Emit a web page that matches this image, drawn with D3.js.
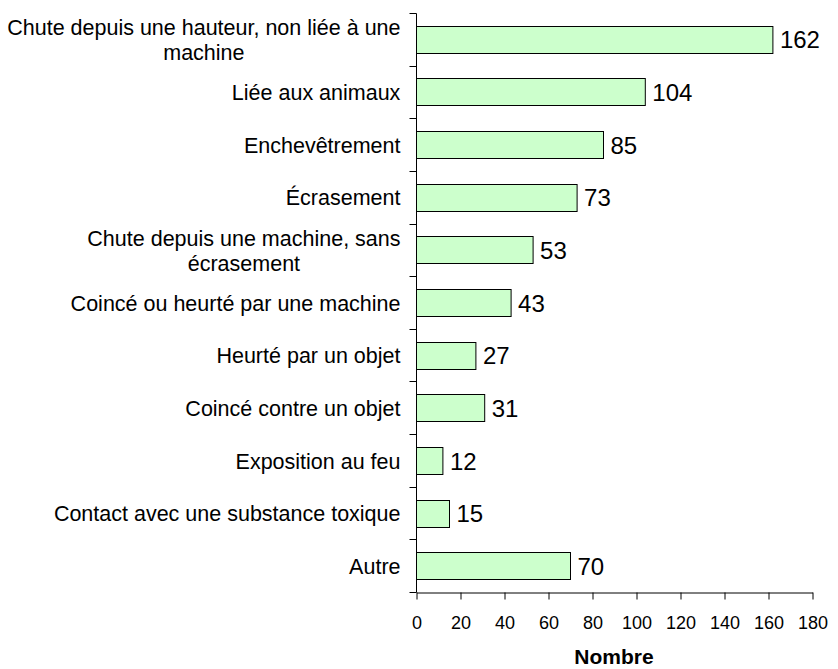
<!DOCTYPE html>
<html>
<head>
<meta charset="utf-8">
<script src="https://cdn.jsdelivr.net/npm/d3@7"></script>
<style>
  html, body { margin: 0; padding: 0; background: #fff; }
  svg { display: block; font-family: Arial, "Liberation Sans", sans-serif; }
</style>
</head>
<body>
<svg id="chart" width="838" height="669"></svg>
<script>
// Causes of injury, count per category (top to bottom)
const categories = [
  ["Chute depuis une hauteur, non liée à une", "machine"],
  ["Liée aux animaux"],
  ["Enchevêtrement"],
  ["Écrasement"],
  ["Chute depuis une machine, sans", "écrasement"],
  ["Coincé ou heurté par une machine"],
  ["Heurté par un objet"],
  ["Coincé contre un objet"],
  ["Exposition au feu"],
  ["Contact avec une substance toxique"],
  ["Autre"]
];
const values = [162, 104, 85, 73, 53, 43, 27, 31, 12, 15, 70];
const xTicks = [0, 20, 40, 60, 80, 100, 120, 140, 160, 180];
const xTitle = "Nombre";

const svg = d3.select("#chart");
const plot = { left: 416, right: 812, top: 13, bottom: 592 };

const keys = categories.map(c => c.join(" "));
const x = d3.scaleLinear().domain([0, 180]).range([plot.left, plot.right]);
const y = d3.scaleBand().domain(keys)
  .range([plot.top, plot.bottom])
  .paddingInner(0.487).paddingOuter(0.2435);

const g = svg.append("g").attr("transform", "translate(0.5,0.5)");

// bars
g.selectAll("rect.bar").data(values).join("rect")
  .attr("class", "bar")
  .attr("x", x(0))
  .attr("y", (d, i) => Math.round(y(keys[i])))
  .attr("width", d => x(d) - x(0))
  .attr("height", Math.round(y.bandwidth()))
  .attr("fill", "#CCFFCC")
  .attr("stroke", "#000")
  .attr("stroke-width", 1);

// value labels
g.selectAll("text.val").data(values).join("text")
  .attr("class", "val")
  .attr("x", d => x(d) + 7)
  .attr("y", (d, i) => y(keys[i]) + y.bandwidth() / 2)
  .attr("dy", "0.36em")
  .attr("font-size", 24)
  .attr("fill", "#000")
  .text(d => d);

// category axis: line plus ticks at band boundaries
const gap = (y.step() - y.bandwidth()) / 2;
const bounds = keys.map(k => y(k) - gap).concat([y(keys[keys.length - 1]) + y.bandwidth() + gap]);
g.append("line")
  .attr("x1", x(0)).attr("x2", x(0))
  .attr("y1", Math.round(bounds[0])).attr("y2", Math.round(bounds[bounds.length - 1]))
  .attr("stroke", "#000");
g.selectAll("line.ytick").data(bounds).join("line")
  .attr("class", "ytick")
  .attr("x1", x(0) - 7).attr("x2", x(0))
  .attr("y1", d => Math.round(d)).attr("y2", d => Math.round(d))
  .attr("stroke", "#000");

// category labels, right-aligned block with centred wrapped lines
const lineH = 25;
categories.forEach((lines, i) => {
  const cy = y(keys[i]) + y.bandwidth() / 2;
  const t = g.append("text")
    .attr("font-size", 21.5)
    .attr("fill", "#000")
    .attr("text-anchor", "middle");
  lines.forEach((ln, j) => {
    t.append("tspan")
      .attr("x", 0)
      .attr("y", cy + (j - (lines.length - 1) / 2) * lineH)
      .attr("dy", "0.36em")
      .text(ln);
  });
  const w = t.node().getBBox().width;
  t.attr("transform", `translate(${x(0) - 16 - w / 2},0)`);
});

// value axis
const xAxis = d3.axisBottom(x).tickValues(xTicks).tickSize(7).tickSizeOuter(0).tickPadding(17);
const ax = g.append("g")
  .attr("transform", `translate(0,${Math.round(bounds[bounds.length - 1])})`)
  .call(xAxis);
ax.select(".domain").attr("stroke", "#000");
ax.selectAll(".tick line").attr("stroke", "#000");
ax.selectAll(".tick text")
  .attr("font-size", 18)
  .attr("font-family", "Arial, 'Liberation Sans', sans-serif")
  .attr("fill", "#000");

// axis title
svg.append("text")
  .attr("x", (plot.left + plot.right) / 2)
  .attr("y", 664)
  .attr("text-anchor", "middle")
  .attr("font-size", 21)
  .attr("font-weight", "bold")
  .attr("fill", "#000")
  .text(xTitle);
</script>
</body>
</html>
